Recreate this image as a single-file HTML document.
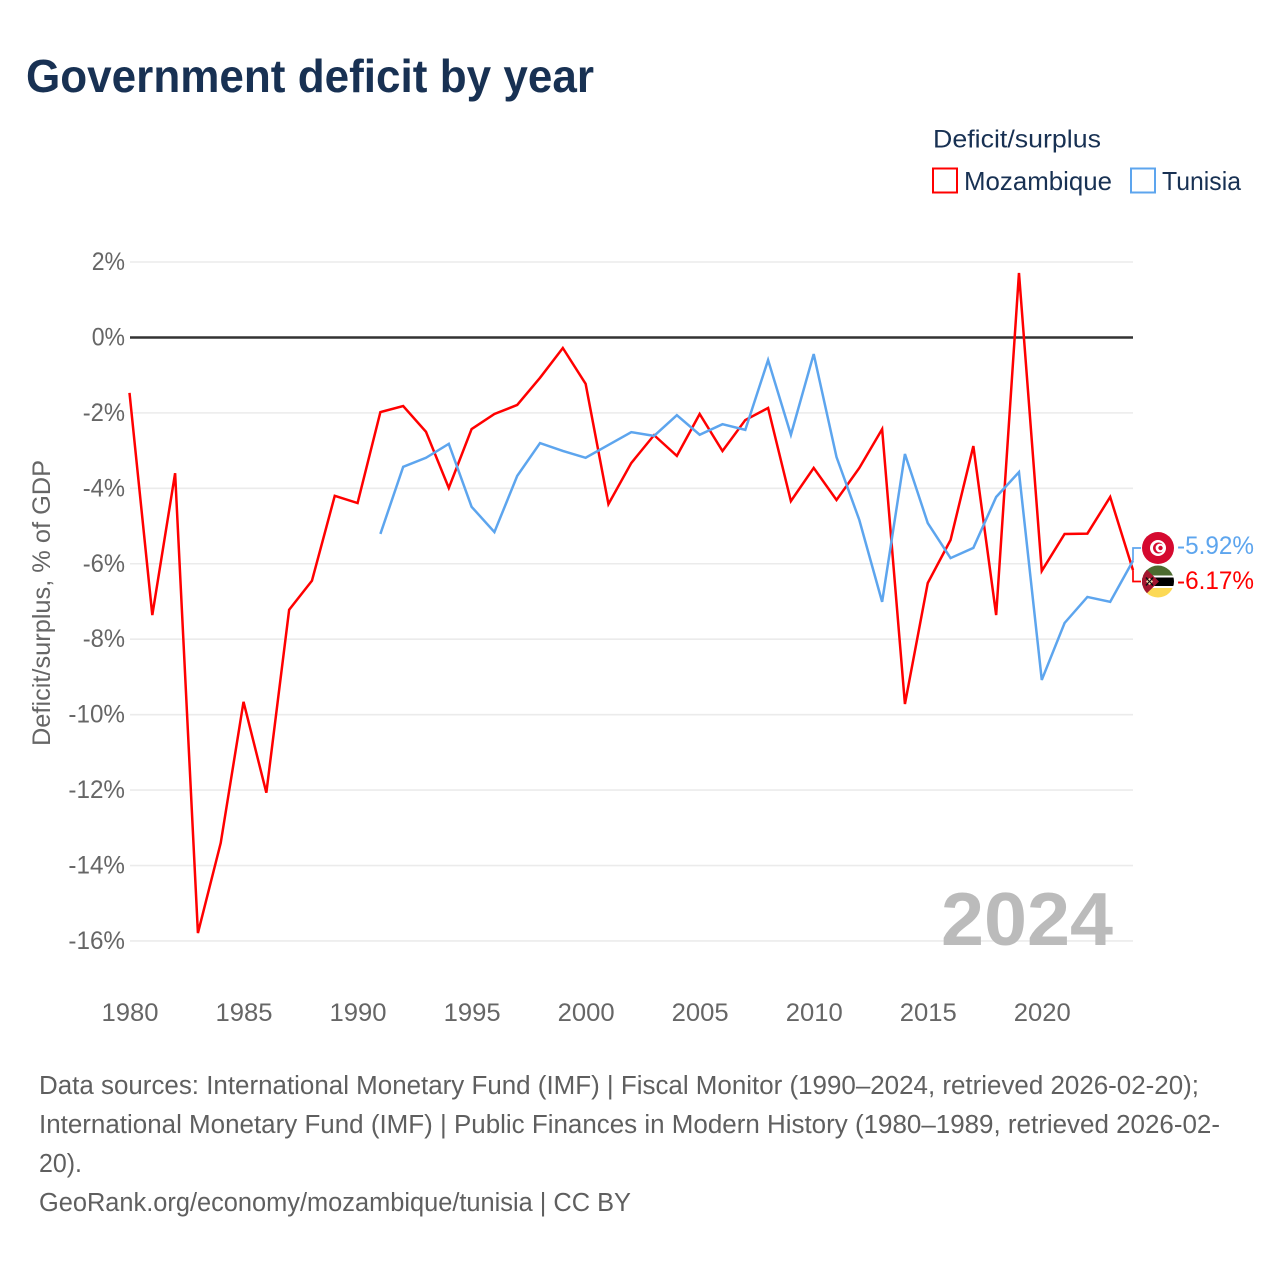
<!DOCTYPE html>
<html lang="en">
<head>
<meta charset="utf-8">
<title>Government deficit by year</title>
<style>
html,body{margin:0;padding:0;background:#fff;}
svg{display:block;font-family:"Liberation Sans",sans-serif;}
</style>
</head>
<body>
<svg id="chart" xmlns="http://www.w3.org/2000/svg" width="1280" height="1280" viewBox="0 0 1280 1280">
  <rect width="1280" height="1280" fill="#fff"/>
  <text x="26" y="92" font-size="46" font-weight="700" fill="#183153" textLength="568" lengthAdjust="spacingAndGlyphs">Government deficit by year</text>

  <g>
    <text x="933" y="147.5" font-size="25" fill="#183153" textLength="168" lengthAdjust="spacingAndGlyphs">Deficit/surplus</text>
    <rect x="933" y="168.5" width="24" height="24" fill="#fff" stroke="#ff0000" stroke-width="2"/>
    <text x="964" y="190" font-size="26" fill="#183153" textLength="148" lengthAdjust="spacingAndGlyphs">Mozambique</text>
    <rect x="1131" y="168.5" width="24" height="24" fill="#fff" stroke="#5da5ee" stroke-width="2"/>
    <text x="1162" y="190" font-size="26" fill="#183153" textLength="79" lengthAdjust="spacingAndGlyphs">Tunisia</text>
  </g>

  <text transform="translate(50,603) rotate(-90)" text-anchor="middle" font-size="25" fill="#666" textLength="286" lengthAdjust="spacingAndGlyphs">Deficit/surplus, % of GDP</text>

  <g id="grid"></g>
  <g id="yticks"></g>
  <g id="xticks"></g>

  <text x="941" y="945" font-size="75" font-weight="700" fill="#bbbbbb" textLength="172" lengthAdjust="spacingAndGlyphs">2024</text>

  <g id="series"></g>
  <g id="connectors"></g>

  <g>
    <circle cx="1158" cy="548" r="16" fill="#d5092f"/>
    <circle cx="1158" cy="548" r="8" fill="#fff"/>
    <circle cx="1158.5" cy="548" r="5.5" fill="#d5092f"/>
    <circle cx="1160" cy="548" r="4.4" fill="#fff"/>
    <circle cx="1160.5" cy="548" r="2.2" fill="#d5092f"/>
  </g>
  <g>
    <clipPath id="mzClip"><circle cx="1158" cy="581.5" r="16"/></clipPath>
    <g clip-path="url(#mzClip)">
      <rect x="1142" y="565" width="32" height="11" fill="#4c6b2f"/>
      <rect x="1142" y="575.5" width="32" height="2" fill="#fff"/>
      <rect x="1142" y="577.5" width="32" height="8.5" fill="#000"/>
      <rect x="1142" y="586" width="32" height="2" fill="#fff"/>
      <rect x="1142" y="588" width="32" height="10" fill="#fcd955"/>
      <polygon points="1142,565 1159,581.5 1142,598" fill="#a3162f"/>
      <path d="M1146 577.5l7 8M1153 577.5l-7 8" stroke="#111" stroke-width="1.6" fill="none"/>
      <path d="M1149.5 578l3.5 3.5-3.5 3.5-3.5-3.5z" fill="#f1dfb0"/>
      <path d="M1147 579l5 5M1152 579l-5 5" stroke="#111" stroke-width="1.1" fill="none"/>
    </g>
  </g>
  <text x="1177" y="554" font-size="25" fill="#5da5ee" textLength="77" lengthAdjust="spacingAndGlyphs">-5.92%</text>
  <text x="1177" y="589" font-size="25" fill="#ff0000" textLength="77" lengthAdjust="spacingAndGlyphs">-6.17%</text>

  <g font-size="25.5" fill="#5f5f5f">
    <text x="39" y="1094" textLength="1160" lengthAdjust="spacingAndGlyphs">Data sources: International Monetary Fund (IMF) | Fiscal Monitor (1990–2024, retrieved 2026-02-20);</text>
    <text x="39" y="1133" textLength="1181" lengthAdjust="spacingAndGlyphs">International Monetary Fund (IMF) | Public Finances in Modern History (1980–1989, retrieved 2026-02-</text>
    <text x="39" y="1172" textLength="43" lengthAdjust="spacingAndGlyphs">20).</text>
    <text x="39" y="1211" textLength="592" lengthAdjust="spacingAndGlyphs">GeoRank.org/economy/mozambique/tunisia | CC BY</text>
  </g>
</svg>
<script>
const years = [1980,1981,1982,1983,1984,1985,1986,1987,1988,1989,1990,1991,1992,1993,1994,1995,1996,1997,1998,1999,2000,2001,2002,2003,2004,2005,2006,2007,2008,2009,2010,2011,2012,2013,2014,2015,2016,2017,2018,2019,2020,2021,2022,2023,2024];
const mozambique = [-1.47,-7.36,-3.6,-15.79,-13.4,-9.66,-12.07,-7.22,-6.45,-4.2,-4.39,-1.98,-1.82,-2.5,-3.99,-2.43,-2.03,-1.79,-1.07,-0.28,-1.23,-4.42,-3.33,-2.59,-3.14,-2.03,-3.01,-2.19,-1.87,-4.34,-3.46,-4.31,-3.46,-2.43,-9.72,-6.51,-5.37,-2.88,-7.36,1.71,-6.19,-5.21,-5.2,-4.23,-6.17];
const tunisia = [null,null,null,null,null,null,null,null,null,null,null,-5.21,-3.43,-3.19,-2.82,-4.49,-5.16,-3.67,-2.8,-3.01,-3.19,-2.85,-2.51,-2.61,-2.06,-2.58,-2.3,-2.45,-0.6,-2.58,-0.44,-3.17,-4.84,-7.01,-3.09,-4.92,-5.85,-5.58,-4.23,-3.57,-9.08,-7.57,-6.88,-7.01,-5.92];
const yTickValues = [2,0,-2,-4,-6,-8,-10,-12,-14,-16];
const xTickValues = [1980,1985,1990,1995,2000,2005,2010,2015,2020];

const NS = 'http://www.w3.org/2000/svg';
const xScale = function (yr) { return 129.5 + (yr - 1980) * (1133 - 129.5) / 44; };
const yScale = function (v) { return 337.44 - v * 37.72; };
const labelWidth = function (s) {
  let w = 0;
  for (const c of s) { w += c === '%' ? 19 : c === '-' ? 9 : 14.3; }
  return w;
};
const make = function (tag) { return document.createElementNS(NS, tag); };

const grid = document.getElementById('grid');
const yticks = document.getElementById('yticks');
yTickValues.forEach(function (v) {
  const line = make('line');
  
  
  line.setAttribute('x1', 130);
  line.setAttribute('x2', 1133);
  line.setAttribute('y1', yScale(v));
  line.setAttribute('y2', yScale(v));
  line.setAttribute('stroke', v === 0 ? '#333333' : '#ebebeb');
  line.setAttribute('stroke-width', v === 0 ? 2.5 : 1.6);
  grid.appendChild(line);

  const label = v + '%';
  const t = make('text');
  
  
  t.setAttribute('x', 125 - labelWidth(label));
  t.setAttribute('y', yScale(v) + 8);
  t.setAttribute('font-size', 25);
  t.setAttribute('fill', '#666');
  t.setAttribute('textLength', labelWidth(label));
  t.setAttribute('lengthAdjust', 'spacingAndGlyphs');
  t.textContent = label;
  yticks.appendChild(t);
});

const xticks = document.getElementById('xticks');
xTickValues.forEach(function (yr) {
  const t = make('text');
  
  
  t.setAttribute('x', xScale(yr) - 28);
  t.setAttribute('y', 1021);
  t.setAttribute('font-size', 25);
  t.setAttribute('fill', '#666');
  t.setAttribute('textLength', 57);
  t.setAttribute('lengthAdjust', 'spacingAndGlyphs');
  t.textContent = String(yr);
  xticks.appendChild(t);
});

const series = document.getElementById('series');
const buildPoints = function (vals) {
  const pts = [];
  vals.forEach(function (v, i) {
    if (v !== null) { pts.push(xScale(years[i]).toFixed(2) + ',' + yScale(v).toFixed(2)); }
  });
  return pts.join(' ');
};

const tunisiaLine = make('polyline');


tunisiaLine.setAttribute('points', buildPoints(tunisia));
tunisiaLine.setAttribute('fill', 'none');
tunisiaLine.setAttribute('stroke', '#5da5ee');
tunisiaLine.setAttribute('stroke-width', 2.5);
tunisiaLine.setAttribute('stroke-linejoin', 'miter');

const mozambiqueLine = make('polyline');


mozambiqueLine.setAttribute('points', buildPoints(mozambique));
mozambiqueLine.setAttribute('fill', 'none');
mozambiqueLine.setAttribute('stroke', '#ff0000');
mozambiqueLine.setAttribute('stroke-width', 2.5);
mozambiqueLine.setAttribute('stroke-linejoin', 'miter');

series.appendChild(mozambiqueLine);
series.appendChild(tunisiaLine);

const connectors = document.getElementById('connectors');
const lastT = yScale(tunisia[tunisia.length - 1]);
const lastM = yScale(mozambique[mozambique.length - 1]);

const connT = make('path');


connT.setAttribute('d', 'M1133 ' + lastT + ' V548 H1141');
connT.setAttribute('fill', 'none');
connT.setAttribute('stroke', '#5da5ee');
connT.setAttribute('stroke-width', 1.7);
connectors.appendChild(connT);

const connM = make('path');


connM.setAttribute('d', 'M1133 ' + lastM + ' V581.5 H1141');
connM.setAttribute('fill', 'none');
connM.setAttribute('stroke', '#ff0000');
connM.setAttribute('stroke-width', 1.7);
connectors.appendChild(connM);
</script>
</body>
</html>
